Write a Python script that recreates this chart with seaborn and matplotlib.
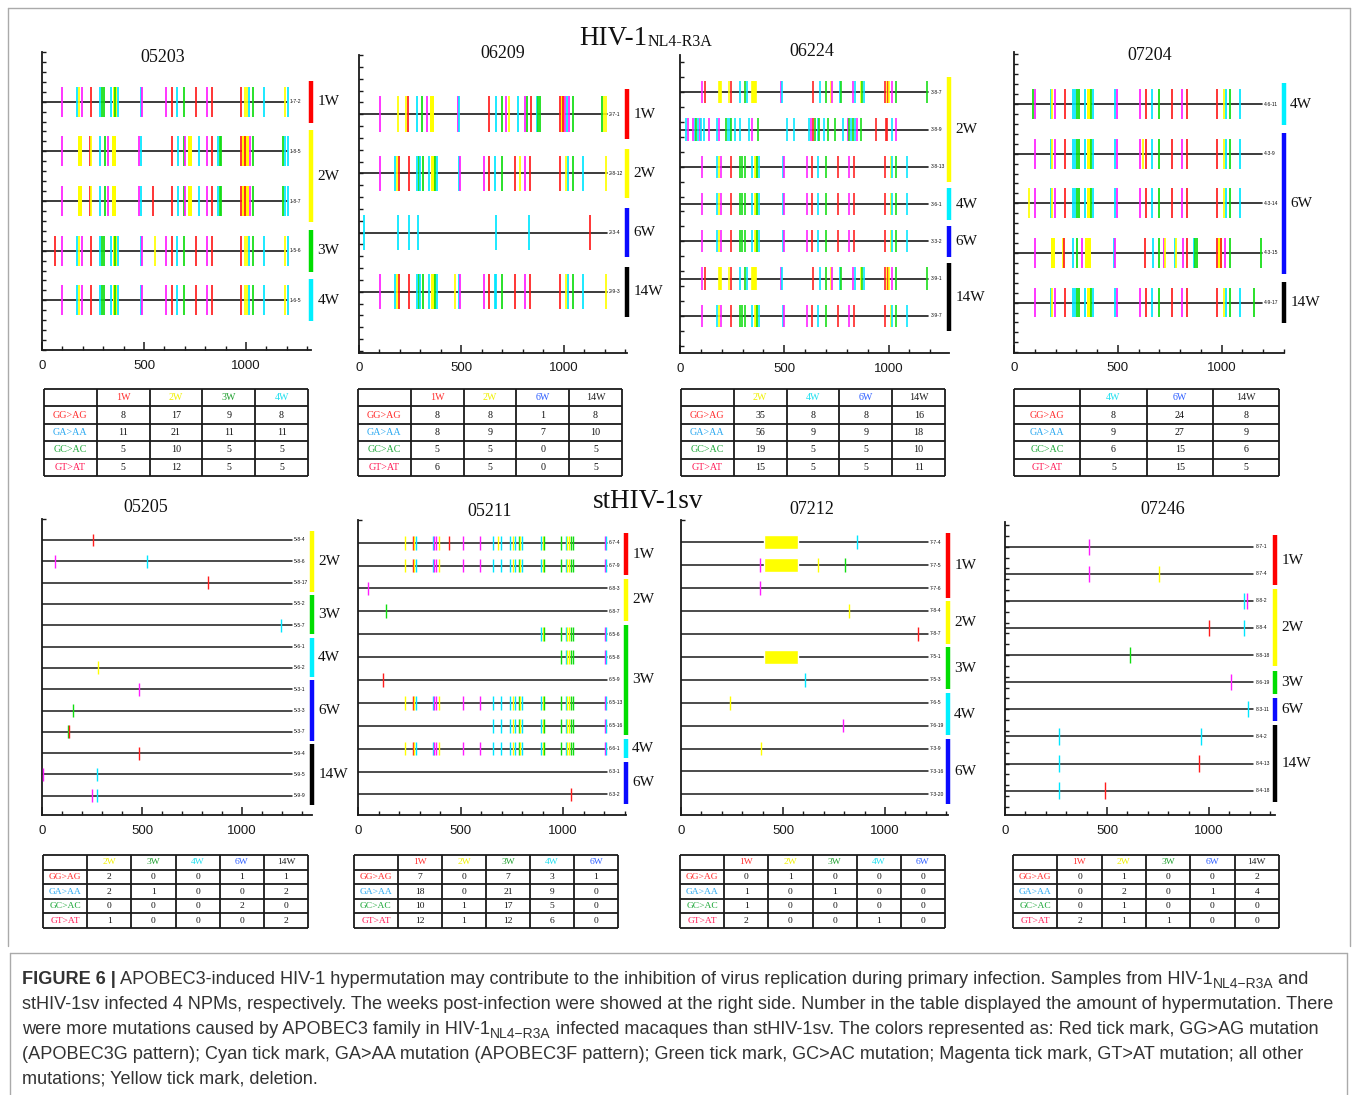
import numpy as np
import pandas as pd
import seaborn as sns
import matplotlib.pyplot as plt
from matplotlib.ticker import MultipleLocator, FixedLocator, NullFormatter
from matplotlib.lines import Line2D

W, H = 1357, 1095

# ---------------- data ----------------
# marks: (position, kind)  r=GG>AG red, c=GA>AA cyan, g=GC>AC green, m=GT>AT magenta, y=other yellow, Y=wide yellow
p1_base = [(99, 'm'), (173, 'c'), (182, 'y'), (194, 'm'), (238, 'r'), (282, 'c'), (293, 'g'), (306, 'g'),
           (339, 'c'), (356, 'Y'), (360, 'g'), (375, 'c'), (485, 'c'), (492, 'm'), (608, 'm'), (635, 'r'),
           (661, 'c'), (694, 'g'), (757, 'r'), (808, 'm'), (832, 'r'), (977, 'r'), (995, 'y'), (1007, 'y'),
           (1015, 'c'), (1034, 'g'), (1088, 'c'), (1191, 'y'), (1207, 'c')]
p1_185 = [(99, 'm'), (186, 'Y'), (233, 'r'), (239, 'y'), (282, 'c'), (310, 'g'), (326, 'm'), (352, 'Y'),
          (477, 'm'), (484, 'c'), (635, 'r'), (665, 'c'), (694, 'g'), (699, 'm'), (725, 'Y'), (770, 'c'),
          (808, 'm'), (832, 'r'), (865, 'c'), (873, 'g'), (880, 'g'), (977, 'r'), (990, 'Y'), (1003, 'Y'),
          (995, 'r'), (1020, 'm'), (1034, 'g'), (1181, 'g'), (1191, 'c'), (1207, 'c')]
P1_NAME = '05203'
P1_SAMPLES = ['1-7-2', '1-8-5', '1-8-7', '1-5-6', '1-6-5']
P1_MARKS = [p1_base, p1_185, p1_185 + [(546, 'r')], p1_base + [(65, 'r'), (555, 'y')], p1_base]
P1_WEEKS = [('1W', 0, 0), ('2W', 1, 2), ('3W', 3, 3), ('4W', 4, 4)]
P1_COLS = ['1W', '2W', '3W', '4W']
P1_TABLE = [[8, 17, 9, 8], [11, 21, 11, 11], [5, 10, 5, 5], [5, 12, 5, 5]]

P2_NAME = '06209'
P2_SAMPLES = ['2-7-1', '2-8-12', '2-3-4', '2-9-3']
P2_MARKS = [
    [(101, 'm'), (191, 'y'), (231, 'y'), (241, 'r'), (283, 'c'), (310, 'g'), (331, 'm'), (355, 'Y'), (482, 'm'),
     (487, 'c'), (634, 'r'), (670, 'c'), (699, 'g'), (720, 'm'), (731, 'y'), (777, 'c'), (813, 'm'), (821, 'g'),
     (839, 'r'), (867, 'c'), (875, 'g'), (886, 'g'), (981, 'r'), (994, 'Y'), (997, 'r'), (1008, 'm'),
     (1016, 'c'), (1025, 'm'), (1043, 'g'), (1188, 'g'), (1196, 'y'), (1207, 'y')],
    [(101, 'm'), (178, 'c'), (186, 'y'), (197, 'r'), (243, 'r'), (283, 'c'), (292, 'g'), (300, 'c'), (311, 'g'),
     (344, 'c'), (363, 'Y'), (373, 'g'), (381, 'c'), (490, 'c'), (495, 'm'), (609, 'm'), (635, 'r'), (665, 'c'),
     (700, 'g'), (762, 'r'), (785, 'y'), (813, 'm'), (837, 'r'), (981, 'r'), (1013, 'y'), (1021, 'c'),
     (1043, 'g'), (1093, 'c'), (1207, 'y')],
    [(26, 'c'), (191, 'c'), (246, 'c'), (287, 'c'), (671, 'c'), (832, 'c'), (1126, 'r')],
    [(101, 'm'), (178, 'c'), (186, 'y'), (197, 'r'), (243, 'r'), (283, 'c'), (292, 'g'), (300, 'c'), (311, 'g'),
     (344, 'c'), (363, 'Y'), (373, 'g'), (381, 'c'), (468, 'y'), (490, 'c'), (495, 'm'), (609, 'm'), (635, 'r'),
     (665, 'c'), (671, 'c'), (700, 'g'), (762, 'r'), (813, 'm'), (837, 'r'), (981, 'r'), (1013, 'y'),
     (1021, 'c'), (1043, 'g'), (1093, 'c'), (1207, 'y')],
]
P2_WEEKS = [('1W', 0, 0), ('2W', 1, 1), ('6W', 2, 2), ('14W', 3, 3)]
P2_COLS = ['1W', '2W', '6W', '14W']
P2_TABLE = [[8, 8, 1, 8], [8, 9, 7, 10], [5, 5, 0, 5], [6, 5, 0, 5]]

p3_387 = [(105, 'm'), (120, 'r'), (190, 'Y'), (233, 'y'), (243, 'r'), (286, 'c'), (311, 'g'), (321, 'c'),
          (350, 'Y'), (362, 'Y'), (484, 'm'), (487, 'c'), (636, 'r'), (669, 'c'), (700, 'g'), (722, 'y'),
          (727, 'm'), (768, 'c'), (773, 'g'), (829, 'm'), (837, 'c'), (867, 'y'), (875, 'g'), (883, 'c'),
          (981, 'r'), (992, 'y'), (997, 'r'), (1003, 'y'), (1019, 'm'), (1038, 'g'), (1185, 'g')]
p3_389 = [(29, 'c'), (37, 'm'), (62, 'm'), (70, 'c'), (78, 'g'), (86, 'c'), (94, 'm'), (102, 'c'), (113, 'c'),
          (139, 'm'), (179, 'c'), (185, 'm'), (222, 'g'), (228, 'c'), (238, 'c'), (244, 'g'), (262, 'c'),
          (287, 'c'), (332, 'c'), (347, 'm'), (374, 'g'), (513, 'c'), (549, 'c'), (620, 'c'), (628, 'm'),
          (637, 'r'), (645, 'g'), (661, 'c'), (668, 'g'), (692, 'c'), (709, 'g'), (741, 'g'), (784, 'c'),
          (805, 'm'), (811, 'g'), (821, 'c'), (832, 'g'), (840, 'c'), (848, 'm'), (866, 'g'), (941, 'r'),
          (987, 'r'), (993, 'r'), (1019, 'c'), (1036, 'm')]
p3_common = [(105, 'm'), (179, 'c'), (185, 'y'), (196, 'm'), (243, 'r'), (286, 'g'), (297, 'g'), (311, 'g'),
             (345, 'c'), (364, 'Y'), (369, 'g'), (380, 'c'), (492, 'c'), (497, 'm'), (608, 'm'), (632, 'r'),
             (664, 'c'), (700, 'g'), (760, 'r'), (811, 'm'), (835, 'r'), (981, 'r'), (1013, 'y'), (1019, 'c'),
             (1038, 'g'), (1088, 'c')]
P3_NAME = '06224'
P3_SAMPLES = ['3-8-7', '3-8-9', '3-8-13', '3-6-1', '3-3-2', '3-9-1', '3-9-7']
P3_MARKS = [p3_387, p3_389, p3_common, p3_common, p3_common, p3_387, p3_common]
P3_WEEKS = [('2W', 0, 2), ('4W', 3, 3), ('6W', 4, 4), ('14W', 5, 6)]
P3_COLS = ['2W', '4W', '6W', '14W']
P3_TABLE = [[35, 8, 8, 16], [56, 9, 9, 18], [19, 5, 5, 10], [15, 5, 5, 11]]

p4_base = [(103, 'm'), (176, 'c'), (184, 'y'), (199, 'm'), (244, 'r'), (285, 'c'), (293, 'c'), (301, 'g'),
           (311, 'g'), (341, 'c'), (359, 'Y'), (372, 'g'), (382, 'c'), (487, 'c'), (494, 'm'), (608, 'm'),
           (635, 'r'), (664, 'c'), (697, 'g'), (763, 'r'), (811, 'm'), (835, 'r'), (979, 'r'), (1010, 'y'),
           (1020, 'c'), (1039, 'g'), (1088, 'c')]
p4_315 = [(103, 'm'), (186, 'Y'), (234, 'y'), (242, 'r'), (285, 'c'), (301, 'g'), (329, 'm'), (350, 'Y'),
          (360, 'Y'), (483, 'c'), (486, 'm'), (632, 'r'), (668, 'c'), (699, 'g'), (720, 'm'), (728, 'y'),
          (773, 'c'), (779, 'y'), (813, 'm'), (835, 'r'), (866, 'c'), (872, 'g'), (883, 'g'), (979, 'r'),
          (992, 'Y'), (997, 'r'), (1018, 'm'), (1039, 'g'), (1189, 'g')]
P4_NAME = '07204'
P4_SAMPLES = ['4-6-11', '4-3-9', '4-3-14', '4-3-15', '4-9-17']
P4_MARKS = [p4_base + [(91, 'g')], p4_base + [(622, 'y')], p4_base + [(74, 'y')], p4_315,
            p4_base + [(1156, 'g')]]
P4_WEEKS = [('4W', 0, 0), ('6W', 1, 3), ('14W', 4, 4)]
P4_COLS = ['4W', '6W', '14W']
P4_TABLE = [[8, 24, 8], [9, 27, 9], [6, 15, 6], [5, 15, 5]]

P5_NAME = '05205'
P5_SAMPLES = ['5-8-4', '5-8-6', '5-8-17', '5-5-2', '5-5-7', '5-6-1', '5-6-2', '5-3-1', '5-3-3', '5-3-7',
              '5-9-4', '5-9-5', '5-9-9']
P5_MARKS = [[(255, 'r')], [(63, 'm'), (525, 'c')], [(830, 'r')], [], [(1194, 'c')], [], [(280, 'y')],
            [(487, 'm')], [(157, 'g')], [(128, 'g'), (133, 'r')], [(485, 'r')], [(7, 'm'), (273, 'c')],
            [(248, 'm'), (273, 'c')]]
P5_WEEKS = [('2W', 0, 2), ('3W', 3, 4), ('4W', 5, 6), ('6W', 7, 9), ('14W', 10, 12)]
P5_COLS = ['2W', '3W', '4W', '6W', '14W']
P5_TABLE = [[2, 0, 0, 1, 1], [2, 1, 0, 0, 2], [0, 0, 0, 2, 0], [1, 0, 0, 0, 2]]

p6_tail = [(893, 'c'), (901, 'y'), (907, 'g'), (990, 'g'), (1015, 'c'), (1021, 'y'), (1028, 'y'), (1039, 'g'),
           (1049, 'g'), (1206, 'm'), (1211, 'c')]
p6_mid = [(657, 'c'), (696, 'c'), (742, 'c'), (758, 'y'), (764, 'c'), (784, 'g'), (790, 'y'), (800, 'c')]
p6_head = [(231, 'y'), (267, 'r'), (272, 'y'), (281, 'c'), (364, 'c'), (372, 'm'), (380, 'm'), (397, 'y'),
           (514, 'm'), (595, 'm')]
P6_NAME = '05211'
P6_SAMPLES = ['6-7-4', '6-7-9', '6-8-3', '6-8-7', '6-5-6', '6-5-8', '6-5-9', '6-5-13', '6-5-16', '6-6-1',
              '6-3-1', '6-3-2']
P6_MARKS = [p6_head + [(442, 'r'), (681, 'y')] + p6_mid + p6_tail, p6_head + p6_mid + p6_tail, [(47, 'm')],
            [(135, 'g')], p6_tail, p6_tail[3:], [(124, 'r')], p6_head + p6_mid + p6_tail, p6_mid + p6_tail,
            p6_head + p6_mid + p6_tail, [], [(1037, 'r')]]
P6_WEEKS = [('1W', 0, 1), ('2W', 2, 3), ('3W', 4, 8), ('4W', 9, 9), ('6W', 10, 11)]
P6_COLS = ['1W', '2W', '3W', '4W', '6W']
P6_TABLE = [[7, 0, 7, 3, 1], [18, 0, 21, 9, 0], [10, 1, 17, 5, 0], [12, 1, 12, 6, 0]]

P7_NAME = '07212'
P7_SAMPLES = ['7-7-4', '7-7-5', '7-7-6', '7-8-4', '7-8-7', '7-5-1', '7-5-3', '7-6-5', '7-6-19', '7-3-9',
              '7-3-16', '7-3-20']
P7_MARKS = [[(861, 'c')], [(386, 'm'), (670, 'y'), (806, 'g')], [(386, 'm')], [(824, 'y')], [(1160, 'r')],
            [], [(608, 'c')], [(239, 'y')], [(793, 'm')], [(392, 'y')], [], []]
P7_DELETIONS = [(0, 407, 572), (1, 407, 572), (5, 407, 572)]
P7_WEEKS = [('1W', 0, 2), ('2W', 3, 4), ('3W', 5, 6), ('4W', 7, 8), ('6W', 9, 11)]
P7_COLS = ['1W', '2W', '3W', '4W', '6W']
P7_TABLE = [[0, 1, 0, 0, 0], [1, 0, 1, 0, 0], [1, 0, 0, 0, 0], [2, 0, 0, 1, 0]]

P8_NAME = '07246'
P8_SAMPLES = ['8-7-1', '8-7-4', '8-8-2', '8-8-4', '8-8-18', '8-6-19', '8-3-11', '8-4-2', '8-4-13', '8-4-18']
P8_MARKS = [[(410, 'm')], [(410, 'm'), (757, 'y')], [(1172, 'c'), (1185, 'm')], [(1000, 'r'), (1172, 'c')],
            [(613, 'g')], [(1106, 'm')], [(1190, 'c')], [(265, 'c'), (958, 'c')], [(265, 'c'), (951, 'r')],
            [(265, 'c'), (490, 'r')]]
P8_WEEKS = [('1W', 0, 1), ('2W', 2, 4), ('3W', 5, 5), ('6W', 6, 6), ('14W', 7, 9)]
P8_COLS = ['1W', '2W', '3W', '6W', '14W']
P8_TABLE = [[0, 1, 0, 0, 2], [0, 2, 0, 1, 4], [0, 1, 0, 0, 0], [2, 1, 1, 0, 0]]

ROW_LABELS = ['GG>AG', 'GA>AA', 'GC>AC', 'GT>AT']

CAPTION = [
    [('FIGURE 6 |', 'b'), (' APOBEC3-induced HIV-1 hypermutation may contribute to the inhibition of virus '
                           'replication during primary infection. Samples from HIV-1', 'n'),
     ('NL4\u2212R3A', 's'), (' and', 'n')],
    [('stHIV-1sv infected 4 NPMs, respectively. The weeks post-infection were showed at the right side. '
      'Number in the table displayed the amount of hypermutation. There', 'n')],
    [('were more mutations caused by APOBEC3 family in HIV-1', 'n'), ('NL4\u2212R3A', 's'),
     (' infected macaques than stHIV-1sv. The colors represented as: Red tick mark, GG>AG mutation', 'n')],
    [('(APOBEC3G pattern); Cyan tick mark, GA>AA mutation (APOBEC3F pattern); Green tick mark, GC>AC '
      'mutation; Magenta tick mark, GT>AT mutation; all other', 'n')],
    [('mutations; Yellow tick mark, deletion.', 'n')],
]

# ---------------- style ----------------
MARK_COLORS = {'r': '#ff1c1c', 'c': '#00e6ff', 'g': '#10dd10', 'm': '#ff1cff', 'y': '#ffff00', 'Y': '#ffff00'}
WEEK_COLORS = {'1W': '#ff0000', '2W': '#ffff00', '3W': '#00dd00', '4W': '#00f0ff', '6W': '#0a0aff',
               '14W': '#000000'}
HEAD_COLORS = {'1W': '#ff3030', '2W': '#f0f000', '3W': '#20a030', '4W': '#20e0f0', '6W': '#3060ff',
               '14W': '#222222'}
ROW_COLORS = ['#ff2a2a', '#2aa8f0', '#1fa83a', '#ff1a55']

sns.set_theme(style='ticks')
plt.rcParams['font.family'] = ['Liberation Sans', 'DejaVu Sans']
SERIF = ['Liberation Serif', 'DejaVu Serif']

fig = plt.figure(figsize=(W / 100, H / 100), dpi=100)
fig.patch.set_facecolor('white')


def px_rect(x0, y0, x1, y1):
    return [x0 / W, 1 - y1 / H, (x1 - x0) / W, (y1 - y0) / H]


PANELS = [
    dict(name=P1_NAME, samples=P1_SAMPLES, marks=P1_MARKS, weeks=P1_WEEKS, cols=P1_COLS, table=P1_TABLE,
         box=(42, 52, 311, 350), ylim=(5.0, -1.0), xmax=1319, line_end=1202, ytick=0.2, title=(163, 57),
         tbox=(44, 389, 308, 476), lw=1.25, big=True),
    dict(name=P2_NAME, samples=P2_SAMPLES, marks=P2_MARKS, weeks=P2_WEEKS, cols=P2_COLS, table=P2_TABLE,
         box=(359, 55, 627, 352.7), ylim=(4.03, -1.0), xmax=1309, line_end=1212, ytick=0.2, title=(503, 53),
         tbox=(358, 389, 622, 476), lw=1.25, big=True),
    dict(name=P3_NAME, samples=P3_SAMPLES, marks=P3_MARKS, weeks=P3_WEEKS, cols=P3_COLS, table=P3_TABLE,
         box=(680, 55, 949, 353), ylim=(7.0, -1.0), xmax=1290, line_end=1191, ytick=0.4, title=(812, 51),
         tbox=(681, 389, 945, 476), lw=1.15, big=True),
    dict(name=P4_NAME, samples=P4_SAMPLES, marks=P4_MARKS, weeks=P4_WEEKS, cols=P4_COLS, table=P4_TABLE,
         box=(1014, 52, 1284, 352.7), ylim=(5.01, -1.05), xmax=1300, line_end=1193, ytick=0.2,
         title=(1150, 55), tbox=(1014, 389, 1279, 476), lw=1.25, big=True),
    dict(name=P5_NAME, samples=P5_SAMPLES, marks=P5_MARKS, weeks=P5_WEEKS, cols=P5_COLS, table=P5_TABLE,
         box=(42, 519, 312, 815), ylim=(12.9, -0.98), xmax=1349, line_end=1247, ytick=None, title=(146, 508),
         tbox=(43, 855, 308, 928), lw=1.0, big=False),
    dict(name=P6_NAME, samples=P6_SAMPLES, marks=P6_MARKS, weeks=P6_WEEKS, cols=P6_COLS, table=P6_TABLE,
         box=(358, 520, 626, 815), ylim=(11.9, -0.99), xmax=1307, line_end=1213, ytick=None, title=(490, 511),
         tbox=(354, 855, 618, 928), lw=1.0, big=False),
    dict(name=P7_NAME, samples=P7_SAMPLES, marks=P7_MARKS, weeks=P7_WEEKS, cols=P7_COLS, table=P7_TABLE,
         box=(681, 520, 948, 815), ylim=(11.9, -0.97), xmax=1309, line_end=1212, ytick=None, title=(812, 510),
         tbox=(680, 855, 945, 928), lw=1.0, big=False, deletions=P7_DELETIONS),
    dict(name=P8_NAME, samples=P8_SAMPLES, marks=P8_MARKS, weeks=P8_WEEKS, cols=P8_COLS, table=P8_TABLE,
         box=(1005, 522, 1275, 815), ylim=(9.9, -0.91), xmax=1323, line_end=1217, ytick=0.4, title=(1163, 509),
         tbox=(1013, 855, 1279, 928), lw=1.0, big=False),
]


def draw_panel(p):
    ax = fig.add_axes(px_rect(*p['box']))
    ax.set_facecolor('none')
    ax.set_xlim(0, p['xmax'])
    ax.set_ylim(*p['ylim'])
    for s in ['top', 'right']:
        ax.spines[s].set_visible(False)
    for s in ['left', 'bottom']:
        ax.spines[s].set_color('#1a1a1a')
        ax.spines[s].set_linewidth(1.3)

    # sequences
    n = len(p['samples'])
    for i in range(n):
        ax.plot([0, p['line_end']], [i, i], color='#1a1a1a', lw=1.2 if p['big'] else 1.1, zorder=2)
        ax.text(p['line_end'] + 10, i, p['samples'][i], fontsize=3.6, va='center', ha='left', color='#111')

    rows = []
    for i, marks in enumerate(p['marks']):
        for pos, kind in marks:
            rows.append((i, pos, kind))
    df = pd.DataFrame(rows, columns=['row', 'pos', 'kind'])
    half = 0.3
    wide = df[df.kind == 'Y']
    if len(wide):
        ax.vlines(wide.pos, wide.row - half, wide.row + half, colors=MARK_COLORS['Y'], lw=p['lw'] * 2.3,
                  zorder=3)
    thin = df[df.kind != 'Y']
    if len(thin):
        ax.vlines(thin.pos, thin.row - half, thin.row + half, colors=thin.kind.map(MARK_COLORS).tolist(),
                  lw=p['lw'], zorder=4)
    for row, start, end in p.get('deletions', []):
        ax.barh(row, end - start, left=start, height=0.62, color='#ffff00', zorder=3)

    # week bars and labels
    for label, i0, i1 in p['weeks']:
        ax.plot([p['xmax'], p['xmax']], [i0 - 0.42, i1 + 0.42], color=WEEK_COLORS[label], lw=3.2,
                solid_capstyle='butt', clip_on=False, zorder=5)
        ax.annotate(label, xy=(p['xmax'], (i0 + i1) / 2), xytext=(4.5, 0), textcoords='offset points',
                    va='center', ha='left', fontsize=11, family=SERIF, color='#111', annotation_clip=False)

    # axes ticks
    ax.xaxis.set_major_locator(FixedLocator([0, 500, 1000]))
    ax.xaxis.set_minor_locator(FixedLocator(list(range(100, int(p['xmax']) + 1, 100))))
    ax.tick_params(axis='x', which='major', direction='in', length=5.5, width=1.1, pad=7, labelsize=9.5,
                   colors='#1a1a1a')
    ax.tick_params(axis='x', which='minor', direction='in', length=3, width=1.0, colors='#1a1a1a')
    ax.set_xticklabels(['0', '500', '1000'])
    if p['ytick']:
        ax.yaxis.set_major_locator(MultipleLocator(p['ytick']))
    else:
        ax.yaxis.set_major_locator(FixedLocator([p['ylim'][1]]))
    ax.yaxis.set_major_formatter(NullFormatter())
    ax.tick_params(axis='y', which='major', direction='in', length=3, width=1.0, colors='#1a1a1a')
    ax.grid(False)

    fig.text(p['title'][0] / W, 1 - p['title'][1] / H, p['name'], ha='center', va='center', fontsize=13,
             family=SERIF, color='#111')

    # table
    tx = fig.add_axes(px_rect(*p['tbox']))
    nc = len(p['cols'])
    tx.set_xlim(0, nc + 1)
    tx.set_ylim(5, 0)
    tx.axis('off')
    tx.hlines(np.arange(6), 0, nc + 1, colors='#1a1a1a', lw=1.3, clip_on=False)
    tx.vlines(np.arange(nc + 2), 0, 5, colors='#1a1a1a', lw=1.3, clip_on=False)
    fs = 7.2 if p['big'] else 6.8
    for j, c in enumerate(p['cols']):
        tx.text(j + 1.5, 0.5, c, ha='center', va='center', fontsize=fs, family=SERIF, color=HEAD_COLORS[c])
    for r, lab in enumerate(ROW_LABELS):
        tx.text(0.5, r + 1.5, lab, ha='center', va='center', fontsize=fs, family=SERIF, color=ROW_COLORS[r])
        for j, v in enumerate(p['table'][r]):
            tx.text(j + 1.5, r + 1.5, str(v), ha='center', va='center', fontsize=fs, family=SERIF, color='#111')


for p in PANELS:
    draw_panel(p)

renderer = fig.canvas.get_renderer()


def rich_text(x, y, pieces, size, sub_size, family, color, sub_drop):
    for text, kind in pieces:
        if kind == 's':
            t = fig.text(x / W, 1 - (y + sub_drop) / H, text, fontsize=sub_size, family=family, color=color,
                         va='baseline', ha='left')
        else:
            t = fig.text(x / W, 1 - y / H, text, fontsize=size, family=family, color=color, va='baseline',
                         ha='left', fontweight='bold' if kind == 'b' else 'normal')
        x = t.get_window_extent(renderer).x1


# group titles
rich_text(579, 45, [('HIV-1', 'n'), ('NL4-R3A', 's')], 19.5, 11.5, SERIF, '#111', 1)
fig.text(648 / W, 1 - 501 / H, 'stHIV-1sv', ha='center', va='center', fontsize=19.5, family=SERIF, color='#111')

# caption
for k, line in enumerate(CAPTION):
    rich_text(22, 984 + 25 * k, line, 13.1, 10, ['Liberation Sans', 'DejaVu Sans'], '#333333', 4)

# frames
frame = dict(color='#aaaaaa', lw=1.0)
fig.add_artist(Line2D([8 / W, 1350 / W], [1 - 8 / H, 1 - 8 / H], **frame))
fig.add_artist(Line2D([8 / W, 8 / W], [1 - 8 / H, 1 - 946 / H], **frame))
fig.add_artist(Line2D([1350 / W, 1350 / W], [1 - 8 / H, 1 - 946 / H], **frame))
fig.add_artist(Line2D([10 / W, 1347 / W], [1 - 953 / H, 1 - 953 / H], **frame))
fig.add_artist(Line2D([10 / W, 10 / W], [1 - 953 / H, 0], **frame))
fig.add_artist(Line2D([1347 / W, 1347 / W], [1 - 953 / H, 0], **frame))

fig.savefig('out.png', dpi=100)
